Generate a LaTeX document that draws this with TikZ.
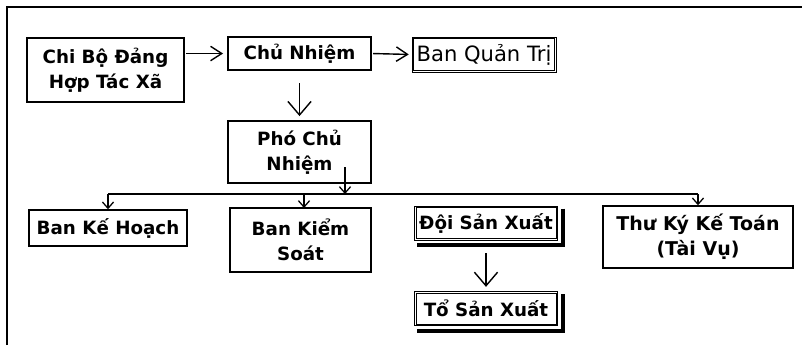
\documentclass[tikz,border=0pt]{standalone}
\usepackage{fontspec}
\setmainfont{DejaVu Sans}
\usetikzlibrary{positioning,arrows.meta,calc}

\begin{document}
\begin{tikzpicture}[x=0.025cm, y=-0.025cm,
  box/.style={draw, line width=1pt, align=center, inner sep=1pt, font=\fontsize{13}{18}\selectfont\bfseries},
  dbox/.style={box, line width=0.6pt},
  link/.style={line width=1pt, -{Straight Barb[length=2.8mm, width=3.6mm, line width=1pt]}},
  biglink/.style={line width=1pt, -{Straight Barb[length=3.4mm, width=5.8mm, line width=1pt]}},
  droplink/.style={line width=0.9pt, -{Straight Barb[length=1.6mm, width=2.8mm, line width=0.9pt]}}]
  \useasboundingbox (0,0) rectangle (802,345);
  % khung
  \draw[line width=1.2pt] (7,345) -- (7,7) -- (802,7);
  % hang tren
  \node[box, minimum width=3.925cm, minimum height=1.6cm] (chibo) at (105.5,70) {Chi Bộ Đảng\\Hợp Tác Xã};
  \node[box, minimum width=3.575cm, minimum height=0.825cm] (chunhiem) at (299.5,53.5) {Chủ Nhiệm};
  \node[dbox, minimum width=3.6cm, minimum height=0.875cm, font=\fontsize{15}{18}\selectfont] (quantri) at (484,54.5) {Ban Quản Trị};
  \node[box, minimum width=3.575cm, minimum height=1.55cm] (pho) at (299.5,152) {Phó Chủ\\Nhiệm};
  % hang duoi
  \node[box, minimum width=3.95cm, minimum height=0.9cm] (kehoach) at (108,228) {Ban Kế Hoạch};
  \node[box, minimum width=3.525cm, minimum height=1.6cm] (kiemsoat) at (300.5,240) {Ban Kiểm\\Soát};
  \node[dbox, minimum width=3.575cm, minimum height=0.85cm] (doi) at (486,223) {Đội Sản Xuất};
  \node[dbox, minimum width=3.575cm, minimum height=0.85cm] (to) at (486,308.5) {Tổ Sản Xuất};
  \node[box, minimum width=4.75cm, minimum height=1.55cm, font=\fontsize{13.5}{18}\selectfont\bfseries] (thuky) at (698,237) {Thư Ký Kế Toán\\(Tài Vụ)};
  % vien doi va bong
  \foreach \n in {quantri,doi,to}
    \draw[line width=0.6pt] ([shift={(2,2)}]\n.north west) rectangle ([shift={(-2,-2)}]\n.south east);
  \foreach \n in {doi,to}
    \draw[line width=0.1cm] ([shift={(5,3)}]\n.north east) -- ([shift={(5,5)}]\n.south east) -- ([shift={(3,5)}]\n.south west);
  % mui ten
  \draw[link, shorten <=1pt, shorten >=3pt] (chibo.east |- chunhiem) -- (chunhiem.west);
  \draw[link, shorten <=1pt, shorten >=2pt] (chunhiem.east) -- (quantri.west);
  \draw[biglink, shorten <=9pt, shorten >=3pt] (chunhiem.south) -- (pho.north);
  \draw[biglink, shorten <=9pt, shorten >=3pt] (doi.south) -- (to.north);
  % duong ngang
  \coordinate (bus) at (0,194);
  \coordinate (pfoot) at (345,167);
  \draw[line width=1pt] (kehoach.north |- bus) -- (thuky.north |- bus);
  \draw[droplink] (pfoot) -- (pfoot |- bus);
  \draw[droplink] (kehoach.north |- bus) -- (kehoach.north);
  \draw[droplink] (304,194) -- (304,208);
  \draw[droplink] (thuky.north |- bus) -- (thuky.north);
\end{tikzpicture}
\end{document}
